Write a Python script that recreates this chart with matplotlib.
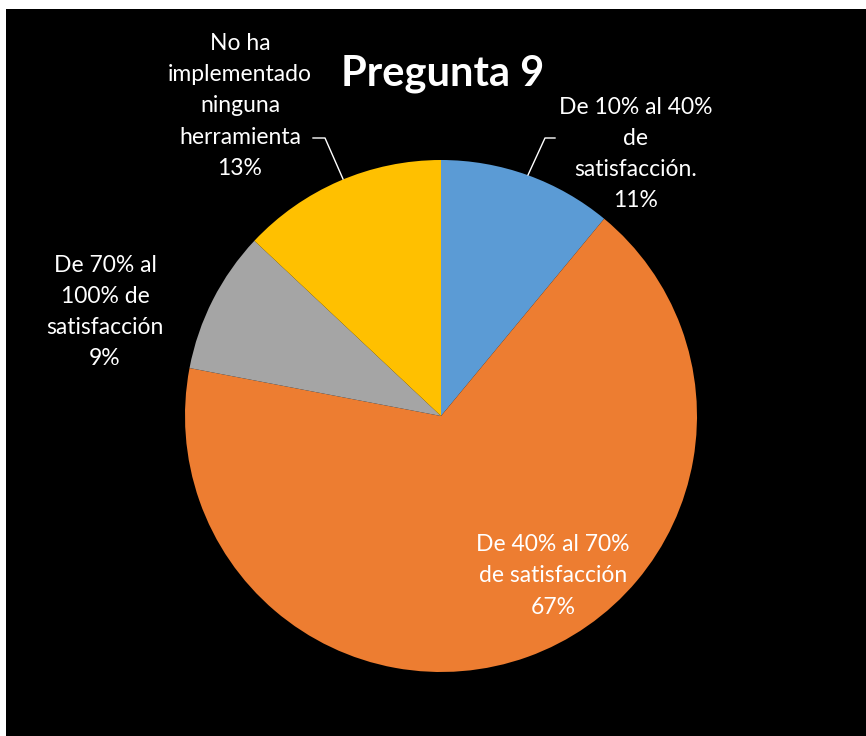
import matplotlib
matplotlib.use("Agg")
import matplotlib.pyplot as plt
from matplotlib.patches import Rectangle

categories = ["De 10% al 40%\nde\nsatisfacción.", "De 40% al 70%\nde satisfacción",
              "De 70% al\n100% de\nsatisfacción", "No ha\nimplementado\nninguna\nherramienta"]
values = [11, 67, 9, 13]
colors = ["#5B9BD5", "#ED7D31", "#A5A5A5", "#FFC000"]
title = "Pregunta 9"

W, H = 866, 736
fig = plt.figure(figsize=(W / 100, H / 100), dpi=100, facecolor="white")
ax = fig.add_axes([0, 0, 1, 1])

def py(y):
    return H - y

ax.add_patch(Rectangle((6, 0), W - 6, H - 9, facecolor="black", edgecolor="none", zorder=0))

cx, cy, r = 441, py(416), 256
wedges, _ = ax.pie(values, colors=colors, startangle=90, counterclock=False,
                   center=(cx, cy), radius=r, frame=True,
                   wedgeprops=dict(linewidth=0))
ax.set_xlim(0, W)
ax.set_ylim(0, H)
ax.set_aspect("equal")
ax.axis("off")

font = "Lato"
fs = 16.5
lab = [f"{c}\n{v}%" for c, v in zip(categories, values)]
pos = [(636, 154), (553, 576), (105, 312), (240, 106)]
for t, (x, y) in zip(lab, pos):
    ax.text(x, py(y), t, color="white", fontsize=fs, family=font, ha="center", va="center",
            linespacing=1.6)

ax.text(443, py(74), title, color="white", fontsize=30, family=font, fontweight="bold",
        ha="center", va="center")

# leader lines
ax.plot([343, 325, 313], [py(179), py(138), py(138)], color="white", lw=1)
ax.plot([528, 545, 555], [py(175), py(138), py(138)], color="white", lw=1)

fig.savefig("out.png", dpi=100, facecolor="white")
